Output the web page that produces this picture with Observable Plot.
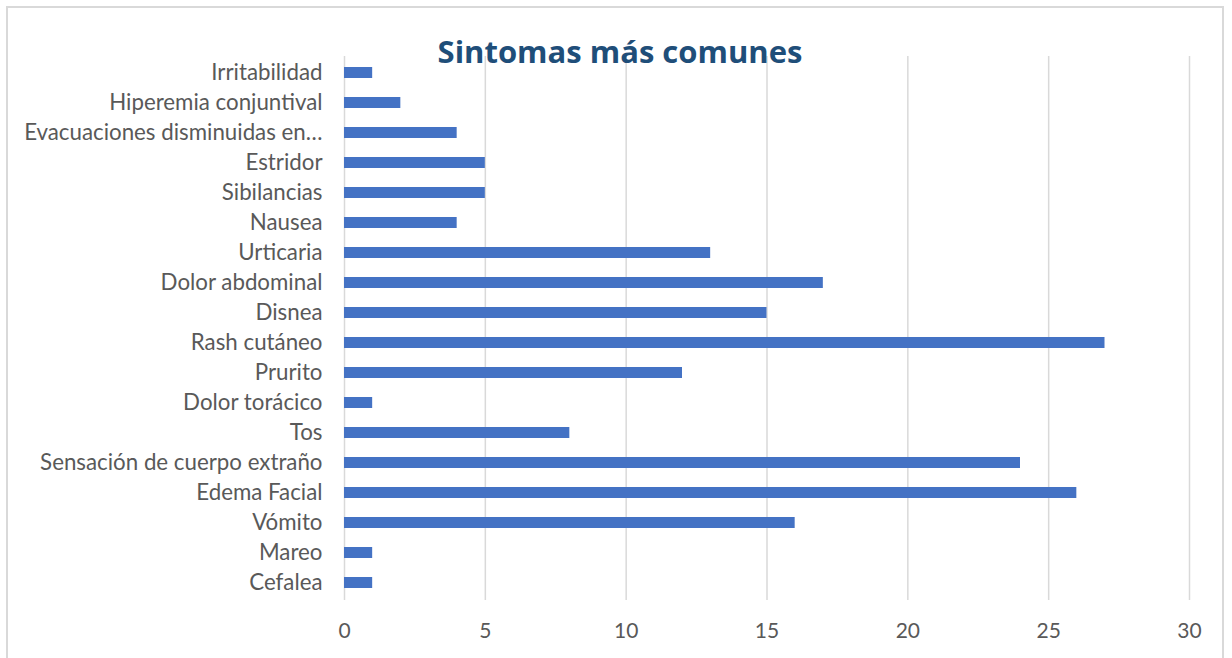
<!DOCTYPE html>
<html>
<head>
<meta charset="utf-8">
<script src="https://cdn.jsdelivr.net/npm/d3@7"></script>
<script src="https://cdn.jsdelivr.net/npm/@observablehq/plot@0.6"></script>
<style>
  html, body { margin: 0; padding: 0; background: #fff; }
  #wrap { position: relative; width: 1232px; height: 658px; overflow: hidden; }
  #frame { position: absolute; left: 6px; top: 6px; width: 1218px; height: 660px; border: 2px solid #d9d9d9; box-sizing: border-box; }
  #title { position: absolute; left: 0; width: 1240px; top: 30px; text-align: center; font-family: "Open Sans", sans-serif; font-weight: 700; font-size: 31px; color: #1F4E79; z-index: 2; pointer-events: none; }
  #chart { position: absolute; left: 0; top: 0; }
</style>
</head>
<body>
<div id="wrap">
  <div id="frame"></div>
  <div id="chart"></div>
  <div id="title">Sintomas más comunes</div>
</div>
<script>
const categories = [
  "Irritabilidad",
  "Hiperemia conjuntival",
  "Evacuaciones disminuidas en…",
  "Estridor",
  "Sibilancias",
  "Nausea",
  "Urticaria",
  "Dolor abdominal",
  "Disnea",
  "Rash cutáneo",
  "Prurito",
  "Dolor torácico",
  "Tos",
  "Sensación de cuerpo extraño",
  "Edema Facial",
  "Vómito",
  "Mareo",
  "Cefalea"
];
const values = [1, 2, 4, 5, 5, 4, 13, 17, 15, 27, 12, 1, 8, 24, 26, 16, 1, 1];
const xTicks = [0, 5, 10, 15, 20, 25, 30];

const data = categories.map((c, i) => ({ sintoma: c, n: values[i] }));

const chart = Plot.plot({
  width: 1232,
  height: 658,
  marginLeft: 344,
  marginRight: 43,
  marginTop: 56,
  marginBottom: 58,
  style: { fontFamily: "Lato, 'Open Sans', sans-serif", fontSize: "22px", color: "#595959", background: "transparent" },
  x: { domain: [0, 30], ticks: xTicks, label: null },
  y: { domain: categories, label: null, paddingInner: 0.63, paddingOuter: 0.315 },
  marks: [
    Plot.gridX(xTicks, { stroke: "#d9d9d9", strokeOpacity: 1, strokeWidth: 1.5 }),
    Plot.barX(data, { x: "n", y: "sintoma", fill: "#4472C4" }),
    Plot.axisX(xTicks, { tickSize: 0, tickPadding: 23, fill: "#595959", fontSize: 21, label: null }),
    Plot.axisY({ tickSize: 0, tickPadding: 22, fill: "#595959", fontSize: 22.3, label: null })
  ]
});
document.getElementById("chart").appendChild(chart);
</script>
</body>
</html>
